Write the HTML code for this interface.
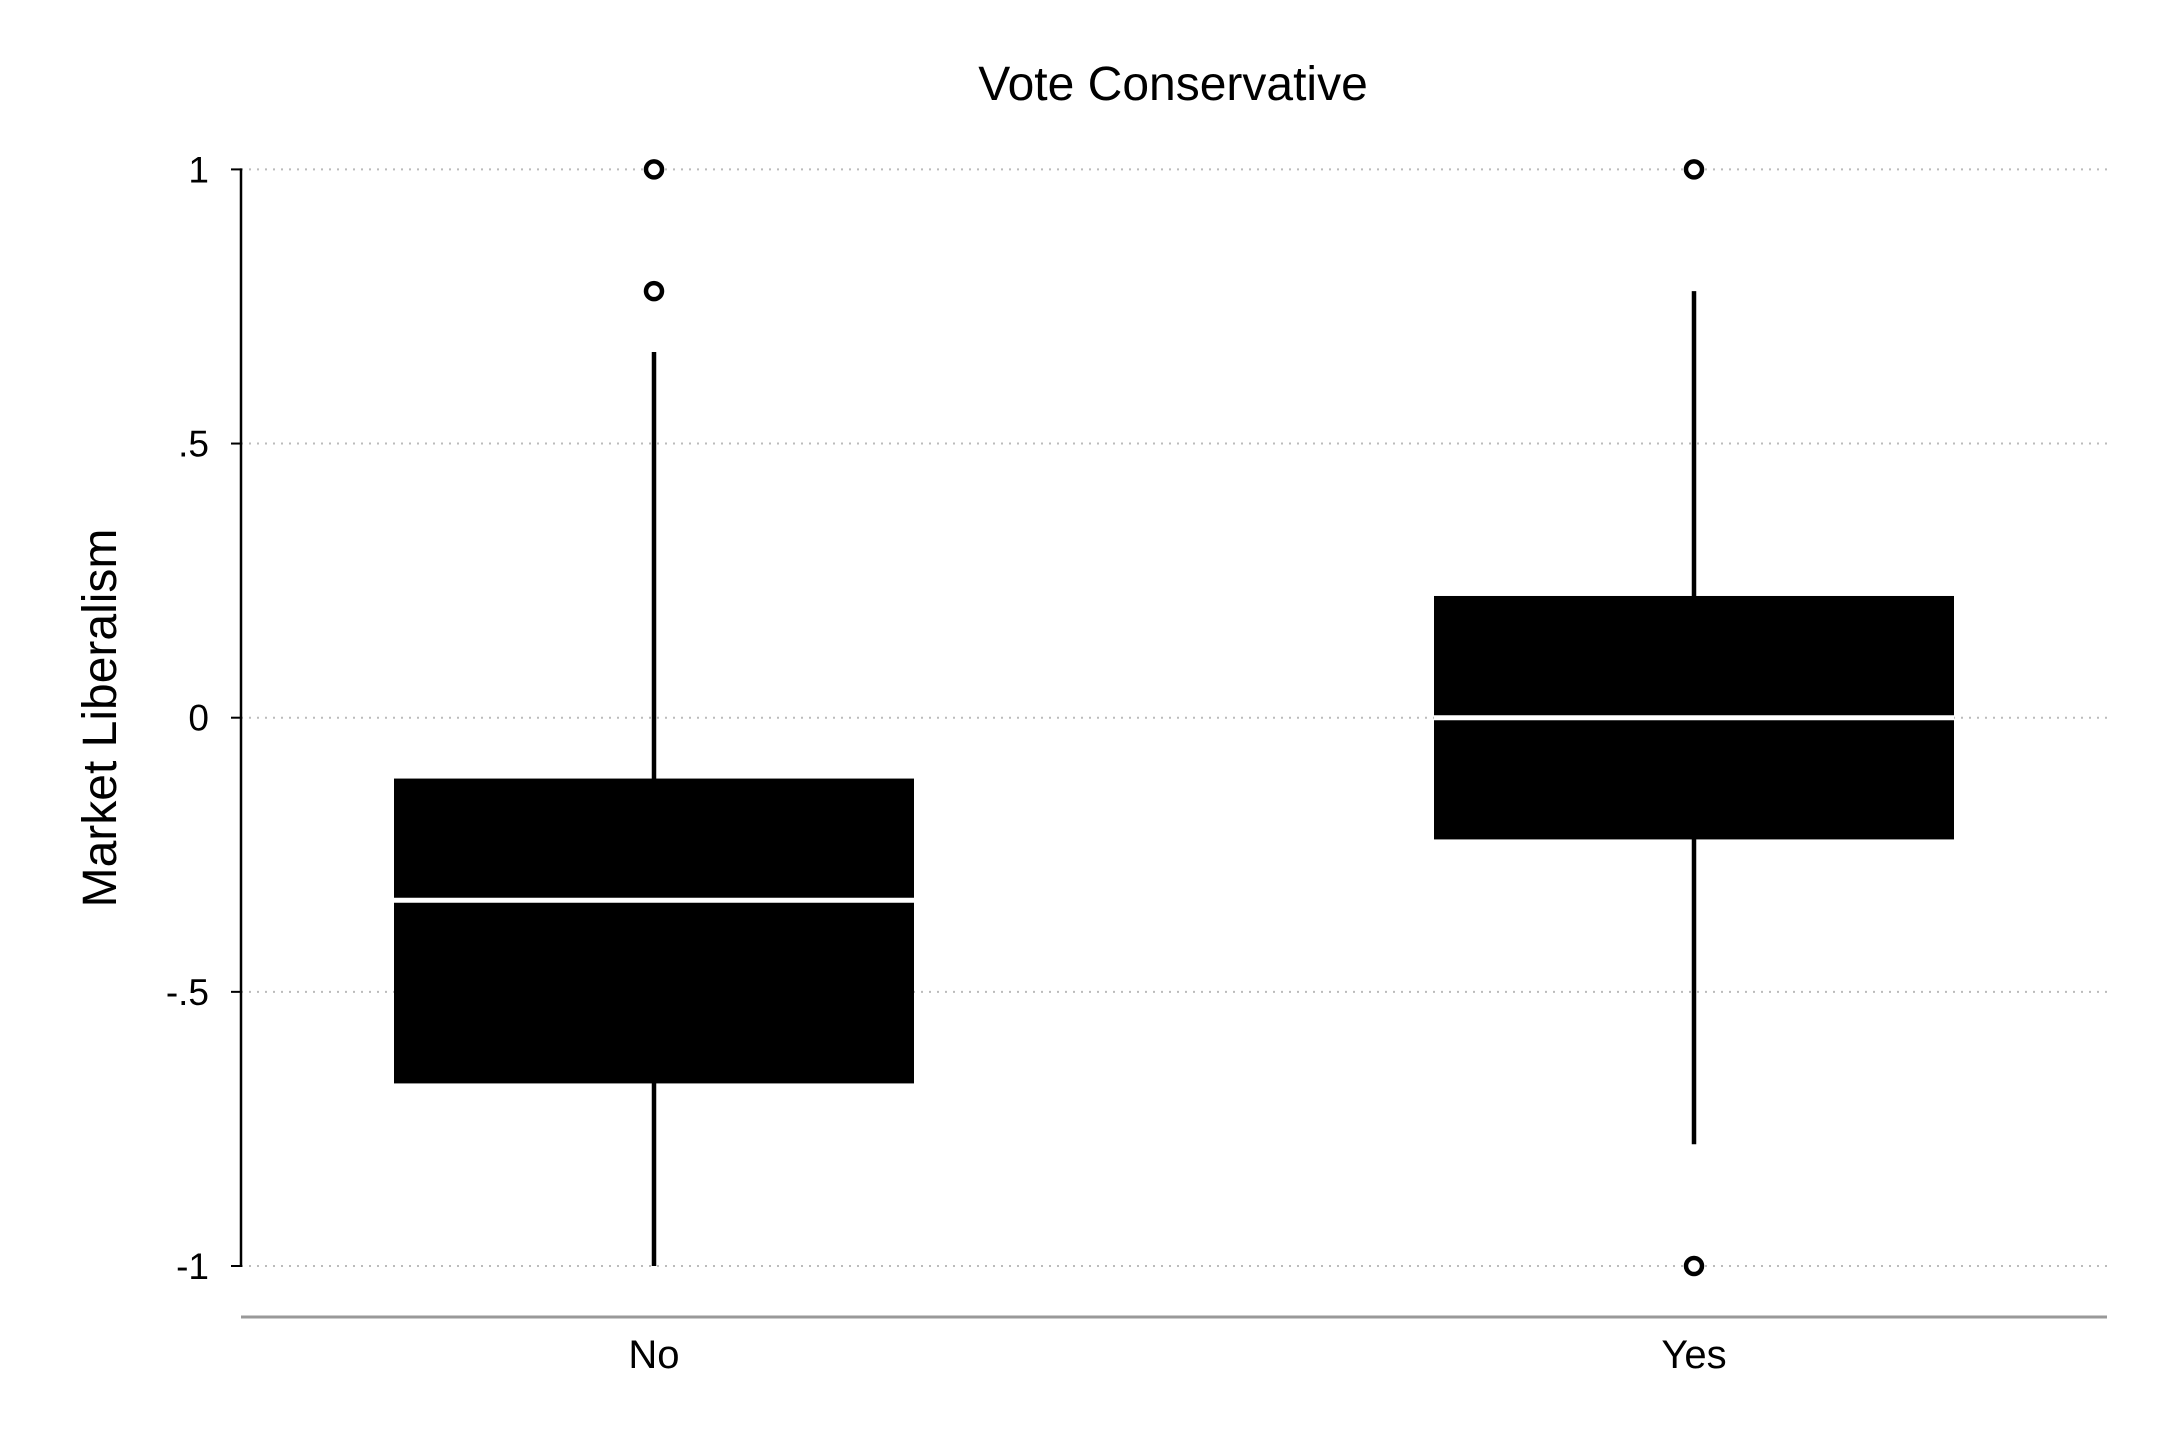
<!DOCTYPE html>
<html><head><meta charset="utf-8"><style>
html,body{margin:0;padding:0;background:#fff;}
svg{display:block;font-family:"Liberation Sans",sans-serif;}
</style></head><body>
<svg id="chart" width="2158" height="1438" viewBox="0 0 2158 1438">
<text x="1173" y="100" font-size="48" text-anchor="middle">Vote Conservative</text>
<text transform="translate(116,718) rotate(-90)" font-size="48" text-anchor="middle">Market Liberalism</text>
<g id="grid"></g><g id="axes"></g><g id="boxes"></g>
</svg>
<script>
const categories = ["No", "Yes"];
const q1Values = [-0.667, -0.222];
const medianValues = [-0.333, 0];
const q3Values = [-0.111, 0.222];
const lowWhisker = [-1, -0.778];
const highWhisker = [0.667, 0.778];
const outliers = [[1, 0.778], [1, -1]];
const yTicks = [1, 0.5, 0, -0.5, -1];
const yTickLabels = ["1", ".5", "0", "-.5", "-1"];

const NS = "http://www.w3.org/2000/svg";
const X0 = 241, X1 = 2107;
function y(v){ return 717.7 - v * 548.3; }
function xc(i){ return 654 + i * 1040; }
const BW = 520;
function mk(tag, attrs, parent){
  const e = document.createElementNS(NS, tag);
  for (const k in attrs) e.setAttribute(k, attrs[k]);
  document.getElementById(parent).appendChild(e);
  return e;
}
yTicks.forEach((t, i) => {
  const g = mk("line", {x1: X0, x2: X1, y1: y(t), y2: y(t), stroke: "#bbb", "stroke-width": 2, "stroke-dasharray": "2 6"}, "grid");
  
  
  const tk = mk("line", {x1: X0 - 10, x2: X0, y1: y(t), y2: y(t), stroke: "#000", "stroke-width": 2}, "axes");
  
  
  const lb = mk("text", {x: X0 - 32, y: y(t) + 13, "font-size": 37, "text-anchor": "end"}, "axes");
  lb.textContent = yTickLabels[i];
  
  
});
const ya = mk("line", {x1: X0, x2: X0, y1: y(1) - 1, y2: y(-1) + 1, stroke: "#000", "stroke-width": 2.5}, "axes");


const xa = mk("line", {x1: X0, x2: X1, y1: 1317, y2: 1317, stroke: "#999", "stroke-width": 3}, "axes");


categories.forEach((c, i) => {
  const cx = xc(i);
  const lb = mk("text", {x: cx, y: 1368, "font-size": 40, "text-anchor": "middle"}, "axes");
  lb.textContent = c;
  
  
  const w = mk("line", {x1: cx, x2: cx, y1: y(highWhisker[i]), y2: y(lowWhisker[i]), stroke: "#000", "stroke-width": 4.5}, "boxes");
  
  
  const b = mk("rect", {x: cx - BW / 2, y: y(q3Values[i]), width: BW, height: y(q1Values[i]) - y(q3Values[i]), fill: "#000"}, "boxes");
  
  
  const m = mk("line", {x1: cx - BW / 2, x2: cx + BW / 2, y1: y(medianValues[i]), y2: y(medianValues[i]), stroke: "#fff", "stroke-width": 5}, "boxes");
  
  
  outliers[i].forEach(v => {
    const o = mk("circle", {cx: cx, cy: y(v), r: 8, fill: "#fff", stroke: "#000", "stroke-width": 4.5}, "boxes");
    
    
  });
});
</script>
</body></html>
